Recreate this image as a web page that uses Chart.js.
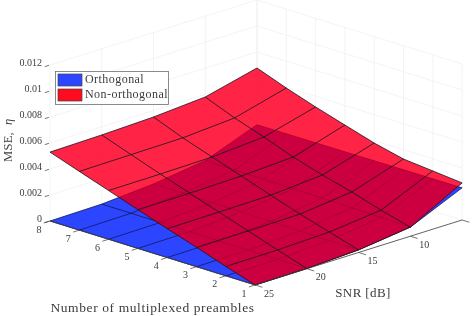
<!DOCTYPE html>
<html>
<head>
<meta charset="utf-8">
<style>
  html, body { margin: 0; padding: 0; background: #fff; }
  #wrap { width: 474px; height: 316px; position: relative; }
</style>
<script src="https://cdn.jsdelivr.net/npm/chart.js@4"></script>
</head>
<body>
<div id="wrap"><canvas id="surfaceChart"></canvas></div>
<script>
// === DATA ===
const preambles = [8, 7, 6, 5, 4, 3, 2, 1];
const snrValues = [5, 10, 15, 20, 25];
const zTicks = [0, 0.002, 0.004, 0.006, 0.008, 0.01, 0.012];
const zTickLabels = ["0", "0.002", "0.004", "0.006", "0.008", "0.01", "0.012"];
const seriesNames = ["Orthogonal", "Non-orthogonal"];

// one row per preamble count, one value per SNR
const nonOrthogonal = [
    [0.00677, 0.00579, 0.00550, 0.00537, 0.00530],
    [0.00593, 0.00488, 0.00460, 0.00456, 0.00452],
    [0.00518, 0.00412, 0.00383, 0.00377, 0.00375],
    [0.00449, 0.00328, 0.00307, 0.00300, 0.00298],
    [0.00381, 0.00260, 0.00230, 0.00225, 0.00222],
    [0.00328, 0.00200, 0.00155, 0.00150, 0.00149],
    [0.00307, 0.00130, 0.00087, 0.00074, 0.00072],
    [0.00285, 0.00070, 0.00020, 0.00002, 0.00000]
];
const orthogonal = [
    [0.00240, 0.00090, 0.00035, 0.00005, 0.00000],
    [0.00241, 0.00088, 0.00034, 0.00005, 0.00000],
    [0.00242, 0.00086, 0.00032, 0.00004, 0.00000],
    [0.00243, 0.00084, 0.00030, 0.00004, 0.00000],
    [0.00244, 0.00082, 0.00028, 0.00003, 0.00000],
    [0.00245, 0.00078, 0.00025, 0.00003, 0.00000],
    [0.00246, 0.00074, 0.00022, 0.00002, 0.00000],
    [0.00247, 0.00070, 0.00020, 0.00002, 0.00000]
];

// === 3D VIEW (orthographic, matches the axes box of the figure) ===
function project(n, snr, z) {
    return {
        x: 50 + (8 - n) * 29.3 + (25 - snr) * 10.35,
        y: 221 + (8 - n) * 9.14 - (25 - snr) * 3.25 - z * 13000
    };
}

function rowLine(surface, i) {
    return snrValues.map((s, j) => project(preambles[i], s, surface[i][j]));
}
function colLine(surface, j) {
    return preambles.map((n, i) => project(n, snrValues[j], surface[i][j]));
}
function outline(surface) {
    const lastRow = preambles.length - 1;
    const lastCol = snrValues.length - 1;
    return [
        ...rowLine(surface, 0),
        ...colLine(surface, lastCol).slice(1),
        ...rowLine(surface, lastRow).reverse().slice(1),
        ...colLine(surface, 0).reverse().slice(1)
    ];
}

// === DATASETS (pushed in paint order) ===
const layers = [];
function addLine(data, color, width, extra) {
    layers.push(Object.assign({
        data: data, showLine: true, pointRadius: 0, tension: 0,
        borderColor: color, borderWidth: width, backgroundColor: "transparent"
    }, extra || {}));
}
function addMesh(surface, color, width, extra) {
    preambles.forEach((n, i) => addLine(rowLine(surface, i), color, width, extra));
    snrValues.forEach((s, j) => addLine(colLine(surface, j), color, width, extra));
}

const gridColor = "#eceff0";
zTicks.forEach(z => {
    addLine([project(8, 25, z), project(8, 5, z)], gridColor, 0.7);
    addLine([project(8, 5, z), project(1, 5, z)], gridColor, 0.7);
});
snrValues.forEach(s => addLine([project(8, s, 0), project(8, s, 0.012)], gridColor, 0.7));
preambles.forEach(n => addLine([project(n, 5, 0), project(n, 5, 0.012)], gridColor, 0.7));

const blueColor = "#2c45ff";
const redColor = "rgba(255, 24, 60, 0.95)";
const overlapColor = "#cc0040";
const meshColor = "#17171d";

addLine(outline(orthogonal), "transparent", 0, { polyFill: blueColor });
addMesh(orthogonal, "#12164f", 0.75);
addLine(outline(nonOrthogonal), "transparent", 0, { polyFill: redColor });
addLine(outline(orthogonal), "transparent", 0, { polyFill: overlapColor, clipToRed: true });
addMesh(orthogonal, "#a6002e", 0.7, { clipToRed: true });
addMesh(nonOrthogonal, meshColor, 0.8);

// axes and tick marks
const axisColor = "#3a3a3a";
addLine([project(8, 25, 0), project(1, 25, 0)], axisColor, 0.8);
addLine([project(1, 25, 0), project(1, 5, 0)], axisColor, 0.8);
preambles.forEach(n => addLine([project(n, 25, 0), project(n, 25.6, 0)], axisColor, 0.7));
snrValues.forEach(s => addLine([project(1, s, 0), project(0.75, s, 0)], axisColor, 0.7));
zTicks.forEach(z => addLine([project(8, 25.1, z), project(8, 25.5, z)], axisColor, 0.7));

layers.forEach((d, i) => { d.order = -i; });

// === PLUGINS ===
const serif = '"Liberation Serif", serif';
const textColor = "#3c3c3c";

function tracePoints(ctx, chart, pts) {
    const sx = chart.scales.x, sy = chart.scales.y;
    ctx.beginPath();
    pts.forEach((p, i) => {
        const px = sx.getPixelForValue(p.x), py = sy.getPixelForValue(p.y);
        if (i === 0) ctx.moveTo(px, py); else ctx.lineTo(px, py);
    });
    ctx.closePath();
}

const surfacePlugin = {
    id: "surfacePlugin",
    beforeDatasetDraw(chart, args) {
        const ds = chart.data.datasets[args.index];
        const ctx = chart.ctx;
        if (ds.clipToRed) {
            ctx.save();
            tracePoints(ctx, chart, outline(nonOrthogonal));
            ctx.clip();
        }
        if (ds.polyFill) {
            tracePoints(ctx, chart, ds.data);
            ctx.fillStyle = ds.polyFill;
            ctx.fill();
        }
    },
    afterDatasetDraw(chart, args) {
        if (chart.data.datasets[args.index].clipToRed) chart.ctx.restore();
    }
};

function drawText(ctx, text, x, y, font, align, spacing) {
    ctx.font = font;
    ctx.textAlign = align;
    ctx.letterSpacing = (spacing || 0) + "px";
    ctx.fillText(text, x, y);
    ctx.letterSpacing = "0px";
}

const labelsPlugin = {
    id: "labelsPlugin",
    afterDraw(chart) {
        const ctx = chart.ctx;
        const sx = chart.scales.x, sy = chart.scales.y;
        ctx.save();
        ctx.fillStyle = textColor;
        ctx.textBaseline = "middle";

        zTicks.forEach((z, i) => {
            const p = project(8, 25, z);
            drawText(ctx, zTickLabels[i], sx.getPixelForValue(p.x) - 8, sy.getPixelForValue(p.y) - 2, "10px " + serif, "right");
        });
        preambles.forEach(n => {
            const p = project(n, 25, 0);
            drawText(ctx, String(n), sx.getPixelForValue(p.x) - 11, sy.getPixelForValue(p.y) + 9, "10px " + serif, "center");
        });
        snrValues.forEach(s => {
            const p = project(1, s, 0);
            drawText(ctx, String(s), sx.getPixelForValue(p.x) + 14, sy.getPixelForValue(p.y) + 9, "10px " + serif, "center");
        });

        drawText(ctx, "Number of multiplexed preambles", 152.5, 308, "13.5px " + serif, "center", 0.6);
        drawText(ctx, "SNR [dB]", 363, 294, "13px " + serif, "center", 0.4);

        // z label, rotated
        ctx.save();
        ctx.translate(9, 141);
        ctx.rotate(-Math.PI / 2);
        drawText(ctx, "MSE,", -6, 0, "12.5px " + serif, "center", 0.3);
        drawText(ctx, "\u03B7", 19, 0, "italic 12.5px " + serif, "center");
        ctx.restore();

        // legend
        ctx.fillStyle = "#fff";
        ctx.fillRect(55.5, 71.5, 113, 33);
        ctx.strokeStyle = "#6a6f70";
        ctx.lineWidth = 0.8;
        ctx.strokeRect(55.5, 71.5, 113, 33);
        [blueColor, "#ff0a1e"].forEach((c, i) => {
            const top = 74 + i * 15;
            ctx.fillStyle = c;
            ctx.fillRect(58, top, 24, 12);
            ctx.strokeStyle = "#444";
            ctx.lineWidth = 0.7;
            ctx.strokeRect(58, top, 24, 12);
            ctx.fillStyle = textColor;
            drawText(ctx, seriesNames[i], 85, top + 6, "12px " + serif, "left", 0.45);
        });
        ctx.restore();
    }
};

// === CHART ===
new Chart(document.getElementById("surfaceChart"), {
    type: "scatter",
    data: { datasets: layers },
    options: {
        responsive: true,
        maintainAspectRatio: false,
        animation: false,
        events: [],
        layout: { padding: 0 },
        plugins: { legend: { display: false }, tooltip: { enabled: false } },
        scales: {
            x: { type: "linear", display: false, min: 0, max: 474 },
            y: { type: "linear", display: false, min: 0, max: 316, reverse: true }
        }
    },
    plugins: [surfacePlugin, labelsPlugin]
});
</script>
</body>
</html>
